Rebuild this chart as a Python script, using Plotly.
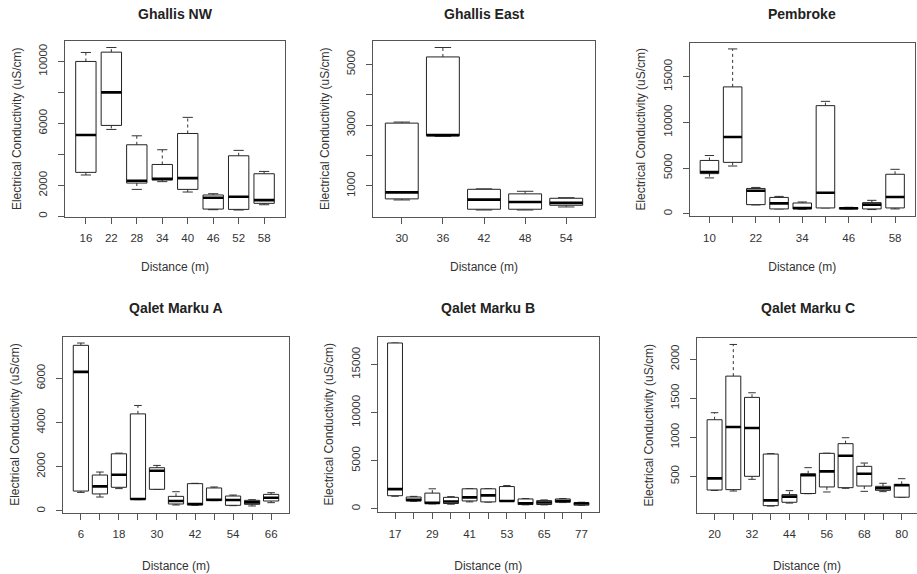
import plotly.graph_objects as go

# ---------------- data ----------------
gnw_title = "Ghallis NW"
gnw_dist = [16, 22, 28, 34, 40, 46, 52, 58]
gnw_lo = [2670, 5610, 1740, 2240, 1570, 430, 410, 750]
gnw_q1 = [2840, 5870, 2150, 2340, 1740, 470, 450, 840]
gnw_med = [5250, 8000, 2300, 2430, 2470, 1200, 1270, 1050]
gnw_q3 = [10000, 10600, 4620, 3350, 5350, 1380, 3910, 2750]
gnw_hi = [10580, 10900, 5200, 4300, 6390, 1460, 4260, 2900]
gnw_xlabels = ["16", "22", "28", "34", "40", "46", "52", "58"]
gnw_yticks = [0, 2000, 4000, 6000, 8000, 10000]
gnw_ylabels = ["0", "2000", "", "6000", "", "10000"]

ge_title = "Ghallis East"
ge_dist = [30, 36, 42, 48, 54]
ge_lo = [540, 2630, 210, 210, 310]
ge_q1 = [575, 2650, 235, 235, 365]
ge_med = [790, 2670, 550, 475, 445]
ge_q3 = [3065, 5240, 890, 740, 595]
ge_hi = [3100, 5550, 905, 825, 615]
ge_xlabels = ["30", "36", "42", "48", "54"]
ge_yticks = [1000, 2000, 3000, 4000, 5000]
ge_ylabels = ["1000", "", "3000", "", "5000"]

pem_title = "Pembroke"
pem_dist = [10, 16, 22, 28, 34, 40, 46, 52, 58]
pem_lo = [3930, 5230, 975, 540, 505, 650, 540, 470, 540]
pem_q1 = [4400, 5630, 1010, 540, 540, 650, 540, 540, 650]
pem_med = [4580, 8400, 2520, 1150, 650, 2310, 610, 1010, 1840]
pem_q3 = [5840, 13880, 2780, 1800, 1190, 11830, 685, 1230, 4330]
pem_hi = [6380, 18030, 2890, 1910, 1300, 12300, 720, 1480, 4870]
pem_xlabels = ["10", "", "22", "", "34", "", "46", "", "58"]
pem_yticks = [0, 5000, 10000, 15000]
pem_ylabels = ["0", "5000", "10000", "15000"]

qma_title = "Qalet Marku A"
qma_dist = [6, 12, 18, 24, 30, 36, 42, 48, 54, 60, 66]
qma_lo = [840, 630, 1010, 510, 977, 270, 255, 466, 240, 225, 375]
qma_q1 = [900, 770, 1070, 525, 980, 315, 270, 466, 255, 300, 450]
qma_med = [6290, 1110, 1640, 540, 1820, 450, 315, 510, 495, 390, 600]
qma_q3 = [7490, 1625, 2585, 4390, 1955, 660, 1235, 1040, 675, 480, 750]
qma_hi = [7595, 1760, 2615, 4770, 2060, 870, 1250, 1085, 720, 510, 825]
qma_xlabels = ["6", "", "18", "", "30", "", "42", "", "54", "", "66"]
qma_yticks = [0, 2000, 4000, 6000]
qma_ylabels = ["0", "2000", "4000", "6000"]

qmb_title = "Qalet Marku B"
qmb_dist = [17, 23, 29, 35, 41, 47, 53, 59, 65, 71, 77]
qmb_lo = [1300, 780, 510, 475, 715, 690, 780, 410, 410, 645, 340]
qmb_q1 = [1360, 815, 545, 545, 815, 715, 785, 440, 440, 680, 375]
qmb_med = [2040, 920, 610, 750, 1190, 1395, 815, 580, 645, 815, 545]
qmb_q3 = [17240, 1225, 1630, 1190, 2075, 2075, 2310, 1020, 850, 1020, 645]
qmb_hi = [17240, 1290, 2075, 1260, 2100, 2100, 2415, 1055, 920, 1055, 680]
qmb_xlabels = ["17", "", "29", "", "41", "", "53", "", "65", "", "77"]
qmb_yticks = [0, 5000, 10000, 15000]
qmb_ylabels = ["0", "5000", "10000", "15000"]

qmc_title = "Qalet Marku C"
qmc_dist = [20, 26, 32, 38, 44, 50, 56, 62, 68, 74, 80]
qmc_lo = [320, 312, 462, 120, 158, 278, 300, 347, 308, 304, 232]
qmc_q1 = [325, 330, 500, 125, 168, 280, 364, 355, 376, 321, 233]
qmc_med = [474, 1131, 1118, 193, 240, 513, 564, 764, 534, 347, 385]
qmc_q3 = [1224, 1782, 1510, 785, 266, 534, 794, 918, 628, 372, 398]
qmc_hi = [1314, 2187, 1569, 790, 317, 611, 796, 994, 670, 411, 470]
qmc_xlabels = ["20", "", "32", "", "44", "", "56", "", "68", "", "80"]
qmc_yticks = [500, 1000, 1500, 2000]
qmc_ylabels = ["500", "1000", "1500", "2000"]

X_LABEL = "Distance (m)"
Y_LABEL = "Electrical Conductivity (uS/cm)"

# ---------------- layout (pixels) ----------------
W, H = 917, 574
FONT = "Liberation Sans, Arial, Helvetica, sans-serif"
TXT = "#333333"
FRAME = "#555555"

# title, data..., x px span, y px span, full x span (if clipped), title y px
panels = [
    (gnw_title, gnw_dist, gnw_lo, gnw_q1, gnw_med, gnw_q3, gnw_hi, gnw_xlabels, gnw_yticks, gnw_ylabels, (65, 285), (41, 216.5), None, 14),
    (ge_title, ge_dist, ge_lo, ge_q1, ge_med, ge_q3, ge_hi, ge_xlabels, ge_yticks, ge_ylabels, (373, 595), (41, 216.5), None, 14),
    (pem_title, pem_dist, pem_lo, pem_q1, pem_med, pem_q3, pem_hi, pem_xlabels, pem_yticks, pem_ylabels, (689.5, 915), (42.5, 216), None, 14),
    (qma_title, qma_dist, qma_lo, qma_q1, qma_med, qma_q3, qma_hi, qma_xlabels, qma_yticks, qma_ylabels, (63, 289), (336.5, 512.5), None, 308),
    (qmb_title, qmb_dist, qmb_lo, qmb_q1, qmb_med, qmb_q3, qmb_hi, qmb_xlabels, qmb_yticks, qmb_ylabels, (377.5, 599), (336.5, 512), None, 308),
    (qmc_title, qmc_dist, qmc_lo, qmc_q1, qmc_med, qmc_q3, qmc_hi, qmc_xlabels, qmc_yticks, qmc_ylabels, (697, 917), (338, 512.5), (697, 919.3), 308),
]

fig = go.Figure()
layout = dict(
    width=W, height=H, autosize=False,
    margin=dict(l=0, r=0, t=0, b=0),
    paper_bgcolor="white", plot_bgcolor="white",
    showlegend=False,
    font=dict(family=FONT, color=TXT, size=12),
)
annotations = []

BW = 0.4   # half box width
CW = 0.2   # half cap width

for k, (title, dist, lo, q1, med, q3, hi, xlab, ytv, ytt, xpx, ypx, fullx, ty) in enumerate(panels):
    sfx = "" if k == 0 else str(k + 1)
    xa, ya = "x" + sfx, "y" + sfx
    n = len(dist)
    pos = list(range(1, n + 1))

    bx, by = [], []
    wx, wy = [], []
    cx, cy = [], []
    mx, my = [], []
    for i in range(n):
        p = pos[i]
        bx += [p - BW, p + BW, p + BW, p - BW, p - BW, None]
        by += [q1[i], q1[i], q3[i], q3[i], q1[i], None]
        wx += [p, p, None, p, p, None]
        wy += [q3[i], hi[i], None, q1[i], lo[i], None]
        cx += [p - CW, p + CW, None, p - CW, p + CW, None]
        cy += [hi[i], hi[i], None, lo[i], lo[i], None]
        mx += [p - BW, p + BW, None]
        my += [med[i], med[i], None]

    fig.add_trace(go.Scatter(x=wx, y=wy, mode="lines", xaxis=xa, yaxis=ya,
                             line=dict(color="#333333", width=1, dash="3px,3px"), hoverinfo="skip"))
    fig.add_trace(go.Scatter(x=cx, y=cy, mode="lines", xaxis=xa, yaxis=ya,
                             line=dict(color="#333333", width=1), hoverinfo="skip"))
    fig.add_trace(go.Scatter(x=bx, y=by, mode="lines", xaxis=xa, yaxis=ya, fill="toself",
                             fillcolor="white", line=dict(color="#222222", width=1), hoverinfo="skip"))
    fig.add_trace(go.Scatter(x=mx, y=my, mode="lines", xaxis=xa, yaxis=ya,
                             line=dict(color="#000000", width=2.6), hoverinfo="skip"))

    xr = [0.5 - 0.04 * n, n + 0.5 + 0.04 * n]
    if fullx is not None:
        scale = (xr[1] - xr[0]) / (fullx[1] - fullx[0])
        xr = [xr[0], xr[0] + (xpx[1] - xpx[0]) * scale]
    ymin, ymax = min(lo), max(hi)
    d = ymax - ymin
    yr = [ymin - 0.04 * d, ymax + 0.04 * d]

    layout["xaxis" + sfx] = dict(
        domain=[xpx[0] / W, xpx[1] / W], anchor=ya, range=xr,
        showline=True, mirror=True, linecolor=FRAME, linewidth=1,
        ticks="outside", ticklen=6, tickcolor=FRAME, tickwidth=1,
        tickvals=pos, ticktext=xlab, tickangle=0,
        tickfont=dict(size=11.5, color=TXT, family=FONT),
        ticklabelstandoff=5,
        showgrid=False, zeroline=False, fixedrange=True,
        title=dict(text=X_LABEL, font=dict(size=12, color=TXT, family=FONT),
                   standoff=(19 if k < 3 else 22)),
    )
    layout["yaxis" + sfx] = dict(
        domain=[1 - ypx[1] / H, 1 - ypx[0] / H], anchor=xa, range=yr,
        showline=True, mirror=True, linecolor=FRAME, linewidth=1,
        ticks="outside", ticklen=6, tickcolor=FRAME, tickwidth=1,
        tickvals=ytv, ticktext=ytt, tickangle=-90,
        tickfont=dict(size=11.5, color=TXT, family=FONT),
        ticklabelstandoff=6,
        showgrid=False, zeroline=False, fixedrange=True,
        title=dict(text=Y_LABEL, font=dict(size=12, color=TXT, family=FONT), standoff=13),
    )
    annotations.append(dict(
        text="<b>" + title + "</b>", xref="paper", yref="paper",
        x=(xpx[0] + (fullx[1] if fullx else xpx[1])) / 2 / W,
        y=1 - ty / H, xanchor="center", yanchor="middle",
        showarrow=False, font=dict(size=14, color="#222222", family=FONT),
    ))

layout["annotations"] = annotations
fig.update_layout(**layout)
fig.write_html("out.html")
